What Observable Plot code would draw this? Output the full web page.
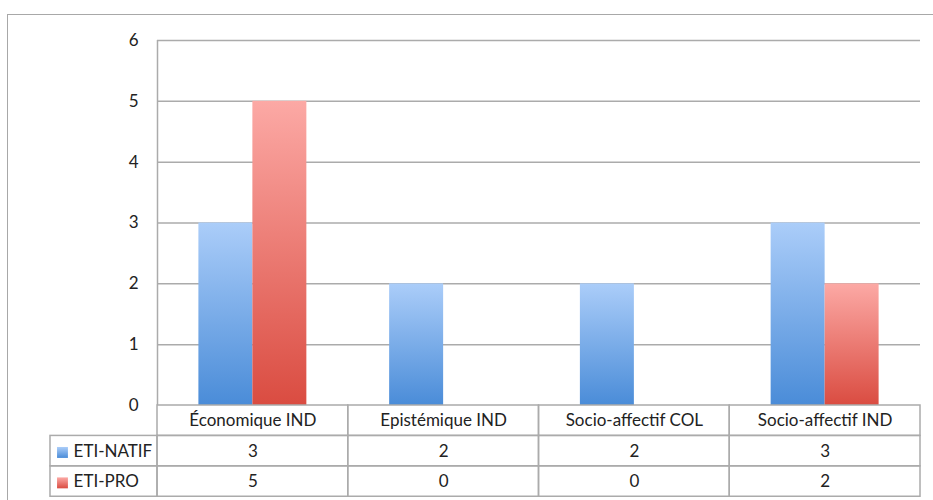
<!DOCTYPE html>
<html><head><meta charset="utf-8">
<script src="https://cdn.jsdelivr.net/npm/d3@7"></script>
<script src="https://cdn.jsdelivr.net/npm/@observablehq/plot@0.6"></script>
<style>
body{margin:0;background:#fff;}
#wrap{position:relative;width:933px;height:500px;overflow:hidden;background:#fff;}
#border{position:absolute;left:7px;top:14px;width:1000px;height:600px;border:1px solid #a8a8a8;}
#wrap svg{position:absolute;left:0;top:0;}
</style></head><body><div id="wrap"><div id="border"></div></div>
<script>
const categories = ["Économique IND", "Epistémique IND", "Socio-affectif COL", "Socio-affectif IND"];
const seriesNames = ["ETI-NATIF", "ETI-PRO"];
const natif = [3, 2, 2, 3];
const pro = [5, 0, 0, 2];
const yTicks = [0, 1, 2, 3, 4, 5, 6];

const seriesValues = [natif, pro];
const half = 0.283; // bar width in category units
const bars = [];
categories.forEach((c, i) => {
  bars.push({series: 0, x1: i + 0.5 - half, x2: i + 0.5, v: natif[i]});
  bars.push({series: 1, x1: i + 0.5, x2: i + 0.5 + half, v: pro[i]});
});
// table cells
const headerCells = categories.map((c, i) => ({x1: i, x2: i + 1, y1: -0.5, y2: 0, label: c}));
const valueCells = [];
seriesNames.forEach((s, r) => {
  categories.forEach((c, i) => valueCells.push({x1: i, x2: i + 1, y1: -0.5 * (r + 2), y2: -0.5 * (r + 1), label: String(seriesValues[r][i])}));
});
const legendLeft = -0.561;
const legendCells = seriesNames.map((s, r) => ({x1: legendLeft, x2: 0, y1: -0.5 * (r + 2), y2: -0.5 * (r + 1), label: s, r}));
const swatches = seriesNames.map((s, r) => ({x1: -0.524, x2: -0.467, y1: -0.69 - 0.5 * r, y2: -0.87 - 0.5 * r, r}));

const gridColor = "#ababab";
const textColor = "#222";
const BLUE = "#6fa3e6", RED = "#e8706a";

const chart = Plot.plot({
  width: 933,
  height: 500,
  marginLeft: 157,
  marginRight: 13,
  marginTop: 40,
  marginBottom: 95,
  style: {fontFamily: "Lato, sans-serif", fontSize: "17px", color: textColor, background: "transparent", overflow: "visible"},
  x: {domain: [0, 4], axis: null},
  y: {domain: [0, 6], ticks: yTicks, tickSize: 0, tickPadding: 19, label: null, tickFormat: d => String(d)},
  marks: [
    Plot.ruleY(yTicks.filter(t => t > 0), {stroke: gridColor, strokeWidth: 1.5}),
    Plot.ruleX([0], {y1: 0, y2: 6, stroke: gridColor, strokeWidth: 1.5}),
    Plot.rect(bars.filter(d => d.series === 0 && d.v > 0), {x1: "x1", x2: "x2", y1: 0, y2: "v", fill: BLUE}),
    Plot.rect(bars.filter(d => d.series === 1 && d.v > 0), {x1: "x1", x2: "x2", y1: 0, y2: "v", fill: RED}),
    Plot.rect(headerCells, {x1: "x1", x2: "x2", y1: "y1", y2: "y2", fill: "none", stroke: gridColor, strokeWidth: 1.5}),
    Plot.rect(valueCells, {x1: "x1", x2: "x2", y1: "y1", y2: "y2", fill: "none", stroke: gridColor, strokeWidth: 1.5}),
    Plot.rect(legendCells, {x1: "x1", x2: "x2", y1: "y1", y2: "y2", fill: "none", stroke: gridColor, strokeWidth: 1.5}),
    Plot.rect(swatches.filter(d => d.r === 0), {x1: "x1", x2: "x2", y1: "y1", y2: "y2", fill: BLUE}),
    Plot.rect(swatches.filter(d => d.r === 1), {x1: "x1", x2: "x2", y1: "y1", y2: "y2", fill: RED}),
    Plot.text(headerCells, {x: d => (d.x1 + d.x2) / 2, y: d => (d.y1 + d.y2) / 2, text: "label", fill: textColor, fontSize: 17}),
    Plot.text(valueCells, {x: d => (d.x1 + d.x2) / 2, y: d => (d.y1 + d.y2) / 2, text: "label", fill: textColor, fontSize: 17}),
    Plot.text(legendCells, {x: -0.44, y: d => (d.y1 + d.y2) / 2, text: "label", textAnchor: "start", fill: textColor, fontSize: 17})
  ]
});

const svg = d3.select(chart);
const defs = svg.insert("defs", ":first-child");
const gb = defs.append("linearGradient").attr("id", "gBlue").attr("x1", 0).attr("y1", 0).attr("x2", 0).attr("y2", 1);
gb.append("stop").attr("offset", "0%").attr("stop-color", "#abcdf9");
gb.append("stop").attr("offset", "100%").attr("stop-color", "#4a8cd8");
const gr = defs.append("linearGradient").attr("id", "gRed").attr("x1", 0).attr("y1", 0).attr("x2", 0).attr("y2", 1);
gr.append("stop").attr("offset", "0%").attr("stop-color", "#fca9a5");
gr.append("stop").attr("offset", "100%").attr("stop-color", "#da4c41");
svg.selectAll("*").each(function() {
  const f = this.getAttribute && this.getAttribute("fill");
  if (f === BLUE) this.setAttribute("fill", "url(#gBlue)");
  else if (f === RED) this.setAttribute("fill", "url(#gRed)");
});

document.getElementById("wrap").appendChild(chart);
</script>
</body></html>
